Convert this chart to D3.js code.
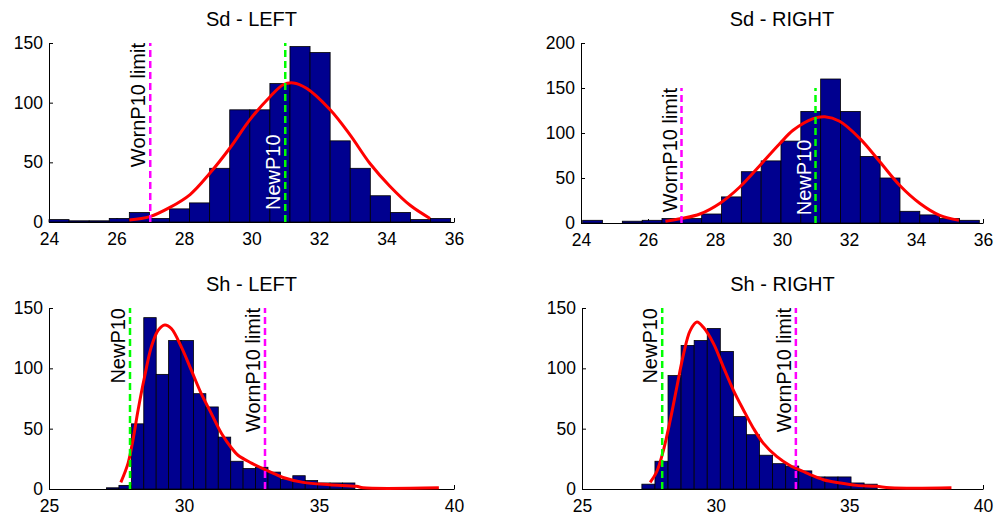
<!doctype html>
<html lang="en">
<head>
<meta charset="UTF-8">
<title>Sd / Sh histograms</title>
<script src="https://cdn.jsdelivr.net/npm/d3@7"></script>
<style>
  body { margin: 0; background: #fff; }
  svg { font-family: "Liberation Sans", Arial, sans-serif; }
  .bar { fill: #00008f; stroke: #000; stroke-width: 0.8; }
  .fit { fill: none; stroke: #ff0000; stroke-width: 3; stroke-linejoin: round; }
  .limit { stroke-width: 2.5; stroke-dasharray: 7,4; }
  .axis path, .axis line { stroke: #000; stroke-width: 1; }
</style>
</head>
<body>
<script>
// histogram counts
var sdLeftCounts  = [2, 1, 1, 3, 8, 3, 11, 16, 45, 94, 94, 116, 147, 142, 68, 45, 22, 8, 2, 3];
var sdRightCounts = [3, 0, 2, 3, 5, 5, 10, 29, 57, 69, 91, 124, 160, 124, 74, 50, 13, 9, 5, 3];
var shLeftCounts  = [1, 3, 54, 142, 95, 123, 123, 79, 68, 43, 23, 17, 18, 14, 8, 11, 7, 5, 5, 5];
var shRightCounts = [4, 23, 94, 119, 123, 133, 114, 60, 45, 28, 21, 19, 15, 10, 10, 10, 5, 4];

// first bin edge and bin width of each histogram
var sdLeftBins  = [24.0, 0.595];
var sdRightBins = [24.05, 0.592];
var shLeftBins  = [27.13, 0.46];
var shRightBins = [27.24, 0.489];

// fitted curves [x, count]
var sdLeftFit = [[26.38,1.7],[26.99,4.5],[27.57,12],[28.18,23],[28.77,41],[29.36,62],[29.96,86],
  [30.55,105],[30.94,115],[31.24,116.5],[31.63,112],[32.33,94],[32.92,73],[33.51,49],[34.1,30],
  [34.7,14],[35.29,3]];
var sdRightFit = [[26.52,2],[27.0,5],[27.55,10],[28.15,22],[28.74,40],[29.34,64],[29.93,88],
  [30.33,103],[30.93,116],[31.28,118],[31.72,113],[32.32,94],[32.92,68],[33.51,42],[34.11,22],
  [34.71,8.5],[35.28,3]];
var shLeftFit = [[27.66,5.5],[27.93,21.5],[28.11,40.7],[28.3,65.5],[28.54,93],[28.79,117.8],
  [29.04,131.5],[29.29,136],[29.53,133],[29.9,117.8],[30.27,98.5],[30.64,79],[31.01,62.7],
  [31.39,46],[31.76,34],[32.0,28],[32.5,21.5],[33.0,16],[33.36,12.5],[33.67,9.5],[34.41,5.5],
  [35.4,3.5],[36.39,2.2],[36.63,1],[39.44,1]];
var shRightFit = [[27.55,5.5],[27.8,14.5],[28.05,32.5],[28.3,57],[28.55,84.7],[28.8,112],
  [29.05,131.5],[29.3,138.4],[29.54,134],[29.92,120.5],[30.29,101],[30.66,82],[31.04,65.5],
  [31.41,50.4],[31.78,38],[32.28,27],[32.78,19.5],[33.28,14.5],[33.53,12],[34.03,7.7],
  [34.65,5],[35.27,3],[36.02,2.2],[36.52,1],[38.82,1]];

// axes
var sdXTicks = [24, 26, 28, 30, 32, 34, 36];
var shXTicks = [25, 30, 35, 40];
var yTicks150 = [0, 50, 100, 150];
var yTicks200 = [0, 50, 100, 150, 200];

var titles = ["Sd - LEFT", "Sd - RIGHT", "Sh - LEFT", "Sh - RIGHT"];
var newP10 = [31, 31, 28, 28];
var wornLimit = [27, 27, 33, 33];
var limitTop = 150;
var newLabelY = [10, 8.6, 150, 150];

var panels = [
  {counts: sdLeftCounts, bins: sdLeftBins, fit: sdLeftFit, xTicks: sdXTicks, yTicks: yTicks150,
   box: [49, 454, 43, 222], newInside: true},
  {counts: sdRightCounts, bins: sdRightBins, fit: sdRightFit, xTicks: sdXTicks, yTicks: yTicks200,
   box: [581, 983, 43, 223], newInside: true},
  {counts: shLeftCounts, bins: shLeftBins, fit: shLeftFit, xTicks: shXTicks, yTicks: yTicks150,
   box: [49, 454, 308, 489], newInside: false},
  {counts: shRightCounts, bins: shRightBins, fit: shRightFit, xTicks: shXTicks, yTicks: yTicks150,
   box: [582, 983, 308, 489], newInside: false}
];

var svg = d3.select("body").append("svg").attr("width", 997).attr("height", 515);

panels.forEach(function (p, i) {
  var b = p.box;
  var x = d3.scaleLinear().domain(d3.extent(p.xTicks)).range([b[0], b[1]]);
  var y = d3.scaleLinear().domain(d3.extent(p.yTicks)).range([b[3], b[2]]);
  var g = svg.append("g");

  g.append("g").attr("class", "axis")
    .attr("transform", "translate(0," + b[3] + ")")
    .call(d3.axisBottom(x).tickValues(p.xTicks).tickSizeInner(-4).tickSizeOuter(0).tickPadding(11))
    .attr("font-size", 17.5).attr("font-family", null);
  g.append("g").attr("class", "axis")
    .attr("transform", "translate(" + b[0] + ",0)")
    .call(d3.axisLeft(y).tickValues(p.yTicks).tickSizeInner(-4).tickSizeOuter(0).tickPadding(6))
    .attr("font-size", 17.5).attr("font-family", null);

  g.selectAll(".bar").data(p.counts).enter().append("rect")
    .attr("class", "bar")
    .attr("x", function (d, k) { return x(p.bins[0] + k * p.bins[1]); })
    .attr("width", function (d, k) { return x(p.bins[0] + (k + 1) * p.bins[1]) - x(p.bins[0] + k * p.bins[1]); })
    .attr("y", function (d) { return y(d); })
    .attr("height", function (d) { return y(0) - y(d); });

  g.append("path").datum(p.fit).attr("class", "fit")
    .attr("d", d3.line()
      .x(function (d) { return x(d[0]); })
      .y(function (d) { return y(d[1]); })
      .curve(d3.curveCatmullRom.alpha(0.5)));

  g.append("line").attr("class", "limit").attr("stroke", "#00ff00")
    .attr("x1", x(newP10[i])).attr("x2", x(newP10[i]))
    .attr("y1", y(0)).attr("y2", y(limitTop));
  g.append("line").attr("class", "limit").attr("stroke", "#ff00ff")
    .attr("x1", x(wornLimit[i])).attr("x2", x(wornLimit[i]))
    .attr("y1", y(0)).attr("y2", y(limitTop));

  g.append("text")
    .attr("transform", "translate(" + (x(wornLimit[i]) - 5) + "," + y(limitTop) + ") rotate(-90)")
    .attr("text-anchor", "end").attr("font-size", 20).attr("fill", "#000")
    .text("WornP10 limit");
  g.append("text")
    .attr("transform", "translate(" + (x(newP10[i]) - 5) + "," + y(newLabelY[i]) + ") rotate(-90)")
    .attr("text-anchor", p.newInside ? "start" : "end").attr("font-size", 20)
    .attr("fill", p.newInside ? "#fff" : "#000")
    .text("NewP10");

  g.append("text")
    .attr("x", (b[0] + b[1]) / 2).attr("y", b[2] - 17.5)
    .attr("text-anchor", "middle").attr("font-size", 20)
    .text(titles[i]);
});
</script>
</body>
</html>
